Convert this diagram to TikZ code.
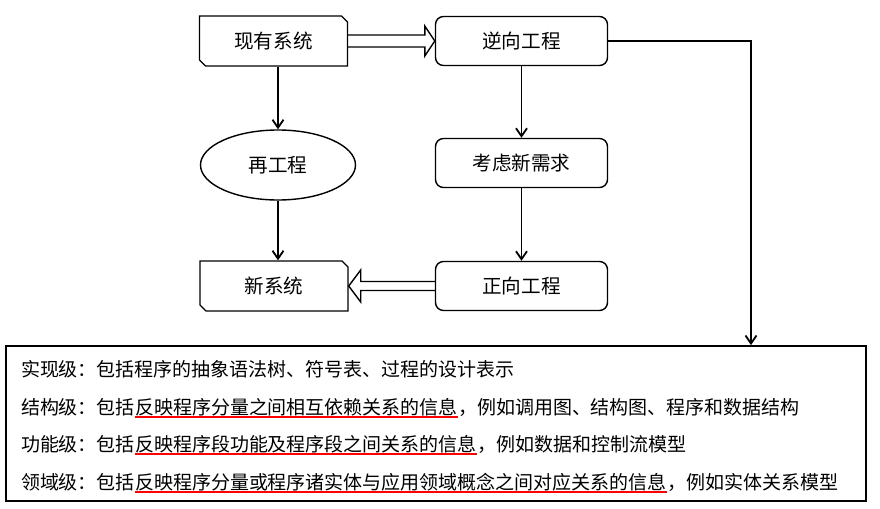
\documentclass[tikz,border=0pt]{standalone}
\usepackage{fontspec}
\newfontfamily\cjk{Noto Sans CJK SC}
\usetikzlibrary{arrows.meta}
\usetikzlibrary{shapes.misc}
\usetikzlibrary{shapes.geometric}
\usetikzlibrary{calc}

\begin{document}
\begin{tikzpicture}[x=0.5pt,y=-0.5pt,font=\cjk,
		sysbox/.style={draw,line width=0.7pt,chamfered rectangle,chamfered rectangle corners={north east,south west},chamfered rectangle xsep=1.5pt,chamfered rectangle ysep=1.5pt,minimum width=74pt,minimum height=25pt,inner sep=0pt,font=\cjk\fontsize{9.8}{12}\selectfont},
		workbox/.style={draw,line width=0.7pt,rounded corners=4pt,minimum width=86pt,minimum height=24.5pt,inner sep=0pt,font=\cjk\fontsize{9.8}{12}\selectfont},
		flow/.style={line width=0.9pt,-{Straight Barb[length=4pt,width=5.5pt]}},
		hollow/.style={line width=0.7pt,line join=miter},
		lvtext/.style={inner sep=0pt,outer sep=0pt,anchor=base west,font=\cjk\fontsize{9.5}{12}\selectfont},
		redline/.style={red,line width=1pt}]
			\useasboundingbox (0,0) rectangle (880,509);
			\node [sysbox] (xt) at (273.5,41) {现有系统};
			\node [workbox] (nx) at (521.5,41) {逆向工程};
			\node [workbox] (kl) at (521.5,163) {考虑新需求};
			\node [workbox] (zx) at (521.5,286) {正向工程};
			\node [draw,ellipse,line width=0.7pt,minimum width=77.5pt,minimum height=35pt,inner sep=0pt,font=\cjk\fontsize{9.8}{12}\selectfont] (zg) at (278,165) {再工程};
			\node [sysbox] (xx) at (274,286) {新系统};
			\node [draw,line width=0.9pt,minimum width=430pt,minimum height=77.5pt,inner sep=0pt] (lv) at (436,423.5) {};
			\coordinate (turn) at (751,41);
			\draw [flow] (xt.south -| zg.north) -- (zg.north);
			\draw [flow] (zg.south) -- (zg.south |- xx.north);
			\draw [flow] (nx.south) -- (kl.north);
			\draw [flow] (kl.south) -- (zx.north);
			\draw [flow] (nx.east) -- (turn) -- (turn |- lv.north);
			\draw [hollow] ($(xt.east)+(0,-6)$) -- ($(nx.west)+(-10,-6)$) -- ($(nx.west)+(-10,-15)$) -- (nx.west) -- ($(nx.west)+(-10,15)$) -- ($(nx.west)+(-10,6)$) -- ($(xt.east)+(0,6)$);
			\draw [hollow] ($(zx.west)+(0,-4.5)$) -- ($(xx.east)+(12,-4.5)$) -- ($(xx.east)+(12,-16)$) -- (xx.east) -- ($(xx.east)+(12,16)$) -- ($(xx.east)+(12,4.5)$) -- ($(zx.west)+(0,4.5)$);
			\node [lvtext] (l1) at (21,376) {实现级：包括程序的抽象语法树、符号表、过程的设计表示};
			\node [lvtext] (l2a) at (21,414) {结构级：包括};
			\node [lvtext] (l2b) at (l2a.base east) {反映程序分量之间相互依赖关系的信息};
			\node [lvtext] (l2c) at (l2b.base east) {，例如调用图、结构图、程序和数据结构};
			\node [lvtext] (l3a) at (21,451) {功能级：包括};
			\node [lvtext] (l3b) at (l3a.base east) {反映程序段功能及程序段之间关系的信息};
			\node [lvtext] (l3c) at (l3b.base east) {，例如数据和控制流模型};
			\node [lvtext] (l4a) at (21,489) {领域级：包括};
			\node [lvtext] (l4b) at (l4a.base east) {反映程序分量或程序诸实体与应用领域概念之间对应关系的信息};
			\node [lvtext] (l4c) at (l4b.base east) {，例如实体关系模型};
			\draw [redline] ($(l2b.base west)+(0,3)$) -- ($(l2b.base east)+(0,3)$);
			\draw [redline] ($(l3b.base west)+(0,3)$) -- ($(l3b.base east)+(0,3)$);
			\draw [redline] ($(l4b.base west)+(0,3)$) -- ($(l4b.base east)+(0,3)$);
	\end{tikzpicture}
\end{document}
